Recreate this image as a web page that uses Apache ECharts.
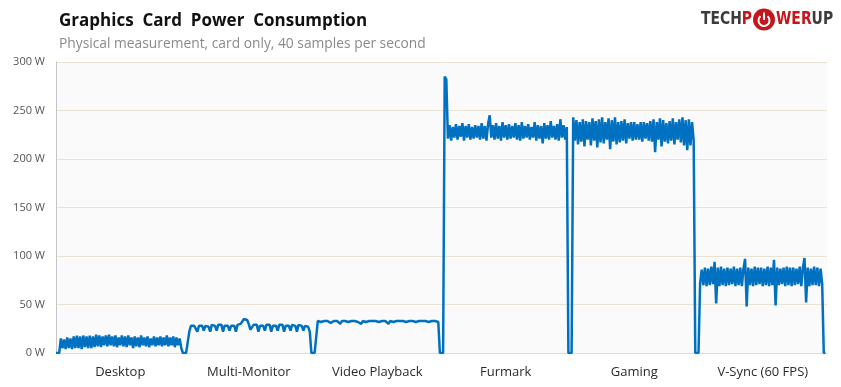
<!DOCTYPE html>
<html>
<head>
<meta charset="utf-8">
<script src="https://cdn.jsdelivr.net/npm/echarts@6/dist/echarts.min.js"></script>
<style>html,body{margin:0;padding:0;background:#fff}#c{width:841px;height:387px}</style>
</head>
<body>
<div id="c"></div>
<script>
// Category labels
var categories = ['Desktop', 'Multi-Monitor', 'Video Playback', 'Furmark', 'Gaming', 'V-Sync (60 FPS)'];
// Y tick values (W)
var yTicks = [0, 50, 100, 150, 200, 250, 300];
// Power samples per test (W), 80 samples per test
var desktop = [0,0,0,
  15,5,14,4,16,5,15,4,17,5,
  18,5,17,4,18,6,17,5,18,5,
  17,6,19,7,18,6,17,8,18,7,
  19,8,17,7,18,6,16,8,18,7,
  17,6,18,8,16,5,17,7,16,6,
  18,8,16,7,17,6,15,8,17,7,
  16,8,17,7,16,8,18,7,16,8,
  17,6,16,8,15,5,
  0];
var multiMonitor = [0,0,0,
  22,28,29,28,27,22,28,29,28,23,
  28,29,27,22,29,28,28,23,29,28,
  29,22,28,29,28,23,28,29,28,22,
  29,28,30,31,35,33,34,30,24,23,
  29,31,29,22,28,29,28,23,29,28,
  29,22,28,29,28,23,29,28,29,22,
  28,29,28,23,29,28,28,22,29,28,
  28,23,28,28,27,22,
  0];
var videoPlayback = [0,0,0,
  33,33,32,33,33,32,33,33,31,33,
  33,32,33,33,30,33,32,33,33,32,
  33,33,31,33,33,32,33,30,33,33,
  32,33,33,32,33,31,33,33,32,33,
  33,32,33,33,30,33,33,32,33,33,
  32,33,31,33,33,32,33,33,32,33,
  33,32,33,33,31,33,32,33,33,32,
  33,33,32,33,33,32,
  0];
var furmark = [0,0,285,282,
  221,235,219,233,222,236,220,234,223,237,
  219,234,222,236,220,233,221,235,222,234,
  220,237,221,234,219,236,245,222,235,220,
  237,221,234,219,238,222,235,220,236,221,
  234,222,237,220,235,219,238,221,234,222,
  236,220,233,222,238,219,235,221,234,216,
  237,221,235,220,239,222,234,220,236,219,
  241,222,235,220,233,
  0];
var gaming = [0,0,
  243,219,240,215,238,218,241,213,239,220,
  238,214,242,219,239,212,241,217,243,216,
  238,220,242,210,240,218,243,215,238,217,
  239,219,241,216,237,221,238,219,238,220,
  236,220,238,218,238,221,237,219,239,218,
  241,207,238,220,242,213,240,218,237,216,
  239,219,242,215,238,220,241,217,243,214,
  240,209,241,214,238,219,
  0,0];
var vsync = [0,
  72,86,70,88,69,87,70,89,71,94,
  51,88,69,89,70,87,69,88,70,87,
  71,89,69,87,70,88,69,87,97,48,
  88,70,87,69,89,70,88,71,88,69,
  87,70,89,69,88,70,96,49,88,70,
  87,71,88,69,89,70,88,69,88,70,
  87,71,89,69,88,98,52,88,69,87,
  70,89,70,88,69,87,71,
  0,0];

var segments = [desktop, multiMonitor, videoPlayback, furmark, gaming, vsync];
var samplesPerTest = 80;
var seriesData = [];
segments.forEach(function (seg, k) {
  seg.forEach(function (v, j) { seriesData.push([k * samplesPerTest + j, v]); });
});

var FONT = '"Open Sans", "Noto Sans", sans-serif';
var LOGO_FONT = 'bold 18px "Liberation Sans Narrow", "DejaVu Sans Condensed", sans-serif';
var chart = echarts.init(document.getElementById('c'), null, {renderer: 'canvas'});
var red = '#c4161c', dark = '#3b3b3b';
chart.setOption({
  animation: false,
  backgroundColor: '#ffffff',
  grid: {left: 56, right: 14, top: 62, bottom: 34, show: true, backgroundColor: '#fafafa', borderWidth: 0},
  xAxis: [{
    type: 'value', min: 0, max: categories.length * samplesPerTest,
    show: true, axisLabel: {show: false}, axisTick: {show: false}, splitLine: {show: false},
    axisLine: {show: true, lineStyle: {color: '#dcdcdc', width: 1}}
  }, {
    type: 'category', data: categories, position: 'bottom', boundaryGap: true,
    axisLine: {show: false}, axisTick: {show: false}, splitLine: {show: false},
    axisLabel: {color: '#2b2b2b', fontSize: 13, fontFamily: FONT, margin: 13}
  }],
  yAxis: {
    type: 'value', min: yTicks[0], max: yTicks[yTicks.length - 1], interval: 50,
    axisLine: {show: true, lineStyle: {color: '#c4c4c4'}},
    axisTick: {show: false},
    axisLabel: {formatter: '{value} W', color: '#555', fontSize: 11, fontFamily: FONT, margin: 11},
    splitLine: {show: true, lineStyle: {color: '#e8e3d3', width: 1}}
  },
  series: [{
    type: 'line', xAxisIndex: 0, data: seriesData, showSymbol: false,
    lineStyle: {color: '#0070c0', width: 2.5}, itemStyle: {color: '#0070c0'}
  }],
  graphic: [
    {type: 'text', left: 59, top: 13, style: {text: 'Graphics  Card  Power  Consumption', font: 'bold 17px ' + FONT, fill: '#111'}},
    {type: 'text', left: 59, top: 37, style: {text: 'Physical measurement, card only, 40 samples per second', font: '13.8px ' + FONT, fill: '#8a8a8a'}},
    {type: 'text', x: 752, y: 19, scaleX: 0.86, style: {text: '{d|TECH}{r|P}', align: 'right', verticalAlign: 'middle',
      rich: {d: {fill: dark, font: LOGO_FONT}, r: {fill: red, font: LOGO_FONT}}}},
    {type: 'circle', shape: {cx: 764, cy: 19.5, r: 11}, style: {fill: red}},
    {type: 'arc', shape: {cx: 764, cy: 20.5, r: 5.5, startAngle: -Math.PI / 2 + 0.7, endAngle: Math.PI * 1.5 - 0.7, clockwise: true}, style: {stroke: '#fff', lineWidth: 2, fill: null}},
    {type: 'line', shape: {x1: 764, y1: 12.5, x2: 764, y2: 20}, style: {stroke: '#fff', lineWidth: 2}},
    {type: 'text', x: 776, y: 19, scaleX: 0.86, style: {text: '{r|WER}{d|UP}', align: 'left', verticalAlign: 'middle',
      rich: {d: {fill: dark, font: LOGO_FONT}, r: {fill: red, font: LOGO_FONT}}}}
  ]
});
</script>
</body>
</html>
